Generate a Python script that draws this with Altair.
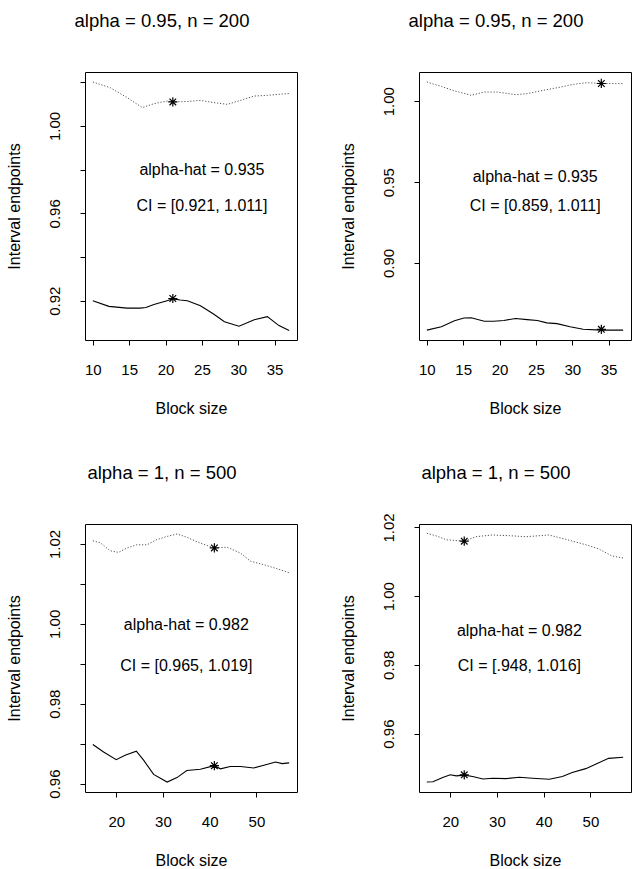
import altair as alt
import pandas as pd

FONT = "Liberation Sans"

# ---------------- data ----------------
titles = ["alpha = 0.95, n = 200", "alpha = 0.95, n = 200",
          "alpha = 1, n = 500", "alpha = 1, n = 500"]
ahat_texts = ["alpha-hat = 0.935", "alpha-hat = 0.935",
              "alpha-hat = 0.982", "alpha-hat = 0.982"]
ci_texts = ["CI = [0.921, 1.011]", "CI = [0.859, 1.011]",
            "CI = [0.965, 1.019]", "CI = [.948, 1.016]"]

# panel 1
p1_lo_x = [10, 12.2, 14.7, 16.5, 17.3, 18.4, 20.2, 21, 22, 23, 24.8, 26.6, 28.1, 30.1, 32.2, 34, 35.6, 37]
p1_lo_y = [0.9200, 0.9174, 0.9166, 0.9166, 0.9169, 0.9183, 0.9200, 0.9208, 0.9203, 0.9200,
           0.9177, 0.9139, 0.9104, 0.9083, 0.9113, 0.9127, 0.9086, 0.9063]
p1_up_x = [10, 12.4, 14.7, 16.8, 18.4, 20.2, 21, 23, 24.8, 26.6, 28.5, 30.3, 32.2, 34, 36.7, 37]
p1_up_y = [1.0201, 1.0175, 1.0130, 1.0084, 1.0102, 1.0114, 1.0110, 1.0112, 1.0117, 1.0107,
           1.0099, 1.0117, 1.0137, 1.0140, 1.0148, 1.0148]
p1_star = [21, 0.921, 1.011]

# panel 2
p2_lo_x = [10, 12, 13.8, 15.1, 16.1, 17.9, 19.2, 20.6, 22.2, 23.8, 25.2, 26.5, 27.9, 29.7, 31.5, 34, 37]
p2_lo_y = [0.8585, 0.8606, 0.8643, 0.8660, 0.8661, 0.8640, 0.8640, 0.8645, 0.8657, 0.8650,
           0.8645, 0.8630, 0.8625, 0.8606, 0.8590, 0.8585, 0.8585]
p2_up_x = [10, 12, 13.8, 16.1, 17.9, 19.7, 22.2, 23.8, 26.5, 28.4, 30.2, 32, 34, 37]
p2_up_y = [1.0119, 1.0092, 1.0064, 1.0037, 1.0057, 1.0057, 1.0041, 1.0047, 1.0072, 1.0088,
           1.0105, 1.0115, 1.0110, 1.0109]
p2_star = [34, 0.859, 1.011]

# panel 3
p3_lo_x = [15, 17.3, 20, 21.9, 24.3, 25.9, 28, 30.9, 33, 35.1, 38, 41, 42.3, 44.4, 46.6,
           49.4, 51.6, 54.1, 55.5, 57]
p3_lo_y = [0.9698, 0.9679, 0.9660, 0.9671, 0.9681, 0.9658, 0.9623, 0.9604, 0.9615, 0.9633,
           0.9636, 0.9645, 0.9637, 0.9643, 0.9643, 0.9639, 0.9646, 0.9654, 0.9650, 0.9652]
p3_up_x = [15, 16.6, 18.7, 20.5, 22.3, 24.4, 26.6, 28.7, 30.9, 33, 35.1, 38, 41, 43.7, 46.6,
           48.7, 51.6, 54.4, 57]
p3_up_y = [1.0208, 1.0203, 1.0183, 1.0179, 1.0190, 1.0198, 1.0198, 1.0211, 1.0219, 1.0225,
           1.0217, 1.0202, 1.0190, 1.0192, 1.0177, 1.0157, 1.0148, 1.0138, 1.0128]
p3_star = [41, 0.9645, 1.019]

# panel 4
p4_lo_x = [15, 16.3, 18.4, 20, 21.3, 23, 24.8, 27, 29.1, 31.9, 34.8, 37.6, 41.2, 44, 46.1,
           49, 51.1, 53.9, 57]
p4_lo_y = [0.9459, 0.9460, 0.9472, 0.9480, 0.9477, 0.9479, 0.9475, 0.9468, 0.9470, 0.9469,
           0.9473, 0.9470, 0.9467, 0.9475, 0.9487, 0.9498, 0.9511, 0.9528, 0.9531]
p4_up_x = [15, 17.1, 19.2, 23, 25.5, 29, 32.6, 36.2, 41.1, 44.6, 48.9, 51.7, 54.6, 57]
p4_up_y = [1.0183, 1.0175, 1.0164, 1.0160, 1.0173, 1.0178, 1.0176, 1.0173, 1.0178, 1.0166,
           1.0150, 1.0138, 1.0117, 1.0111]
p4_star = [23, 0.948, 1.016]

# axis settings
x_domains = [[8.92, 38.08], [8.92, 38.08], [13.32, 58.68], [13.32, 58.68]]
x_ticks = [[10, 15, 20, 25, 30, 35], [10, 15, 20, 25, 30, 35], [20, 30, 40, 50], [20, 30, 40, 50]]
y_domains = [[0.9020, 1.0247], [0.8524, 1.0181], [0.9579, 1.0250], [0.9430, 1.0210]]
y_ticks = [[0.92, 0.94, 0.96, 0.98, 1.00, 1.02],
           [0.90, 0.95, 1.00],
           [0.96, 0.97, 0.98, 0.99, 1.00, 1.01, 1.02],
           [0.96, 0.98, 1.00, 1.02]]
y_labeled = [[0.92, 0.96, 1.00], [0.90, 0.95, 1.00],
             [0.96, 0.98, 1.00, 1.02], [0.96, 0.98, 1.00, 1.02]]
text_pos = [[25, 0.980, 0.9634], [24.9, 0.953, 0.9355],
            [35, 0.9996, 0.9894], [34.8, 0.990, 0.9796]]

W, H = 212, 268
ASTERISK = "M-1,0L1,0M0,-1L0,1M-0.72,-0.72L0.72,0.72M-0.72,0.72L0.72,-0.72"


def panel(i, lo_x, lo_y, up_x, up_y, star):
    lo = pd.DataFrame({"x": lo_x, "y": lo_y})
    up = pd.DataFrame({"x": up_x, "y": up_y})
    st = pd.DataFrame({"x": [star[0], star[0]], "y": [star[1], star[2]]})
    tx = pd.DataFrame({"x": [text_pos[i][0]] * 2, "y": text_pos[i][1:],
                       "t": [ahat_texts[i], ci_texts[i]]})
    tt = pd.DataFrame({"t": [titles[i]]})
    labs = ",".join(repr(v) for v in y_labeled[i])
    xs = alt.Scale(domain=x_domains[i], nice=False, zero=False)
    ys = alt.Scale(domain=y_domains[i], nice=False, zero=False)
    xax = alt.Axis(values=x_ticks[i], title="Block size", labelPadding=17, titlePadding=23)
    yax = alt.Axis(values=y_ticks[i], title="Interval endpoints", labelAngle=-90,
                   labelAlign="center", labelBaseline="bottom", labelPadding=18,
                   titlePadding=25,
                   labelExpr=f"indexof([{labs}], round(datum.value*100)/100) >= 0 ? format(datum.value, '.2f') : ''")
    enc_x = alt.X("x:Q", scale=xs, axis=xax)
    enc_y = alt.Y("y:Q", scale=ys, axis=yax)
    lower = alt.Chart(lo).mark_line(color="black", strokeWidth=1.1).encode(x=enc_x, y=enc_y)
    upper = alt.Chart(up).mark_line(color="#555555", strokeWidth=1, strokeDash=[1.2, 1.8]).encode(
        x=alt.X("x:Q", scale=xs), y=alt.Y("y:Q", scale=ys))
    stars = alt.Chart(st).mark_point(shape=ASTERISK, size=85, filled=False, color="black",
                                     strokeWidth=1.2, opacity=1).encode(
        x=alt.X("x:Q", scale=xs), y=alt.Y("y:Q", scale=ys))
    texts = alt.Chart(tx).mark_text(font=FONT, fontSize=16, color="black", align="center",
                                    baseline="middle").encode(
        x=alt.X("x:Q", scale=xs), y=alt.Y("y:Q", scale=ys), text="t:N")
    title = alt.Chart(tt).mark_text(font=FONT, fontSize=18.5, color="black", align="center",
                                    baseline="alphabetic").encode(
        x=alt.value(W / 2 - 29), y=alt.value(-45), text="t:N")
    return alt.layer(lower, upper, stars, texts, title).properties(width=W, height=H)


c1 = panel(0, p1_lo_x, p1_lo_y, p1_up_x, p1_up_y, p1_star)
c2 = panel(1, p2_lo_x, p2_lo_y, p2_up_x, p2_up_y, p2_star)
c3 = panel(2, p3_lo_x, p3_lo_y, p3_up_x, p3_up_y, p3_star)
c4 = panel(3, p4_lo_x, p4_lo_y, p4_up_x, p4_up_y, p4_star)

chart = alt.vconcat(
    alt.hconcat(c1, c2, spacing=41),
    alt.hconcat(c3, c4, spacing=41),
    spacing=46,
).properties(
    background="white", padding={"top": 11, "left": 5, "right": 5, "bottom": 5}
).configure_view(
    stroke="black", strokeWidth=1
).configure_axis(
    grid=False, domain=False, tickColor="black", tickSize=5, labelColor="black",
    titleColor="black", labelFont=FONT, labelFontSize=15, titleFont=FONT,
    titleFontSize=16, titleFontWeight="normal",
)

chart.save("out.html", embed_options={"renderer": "svg", "actions": False})
